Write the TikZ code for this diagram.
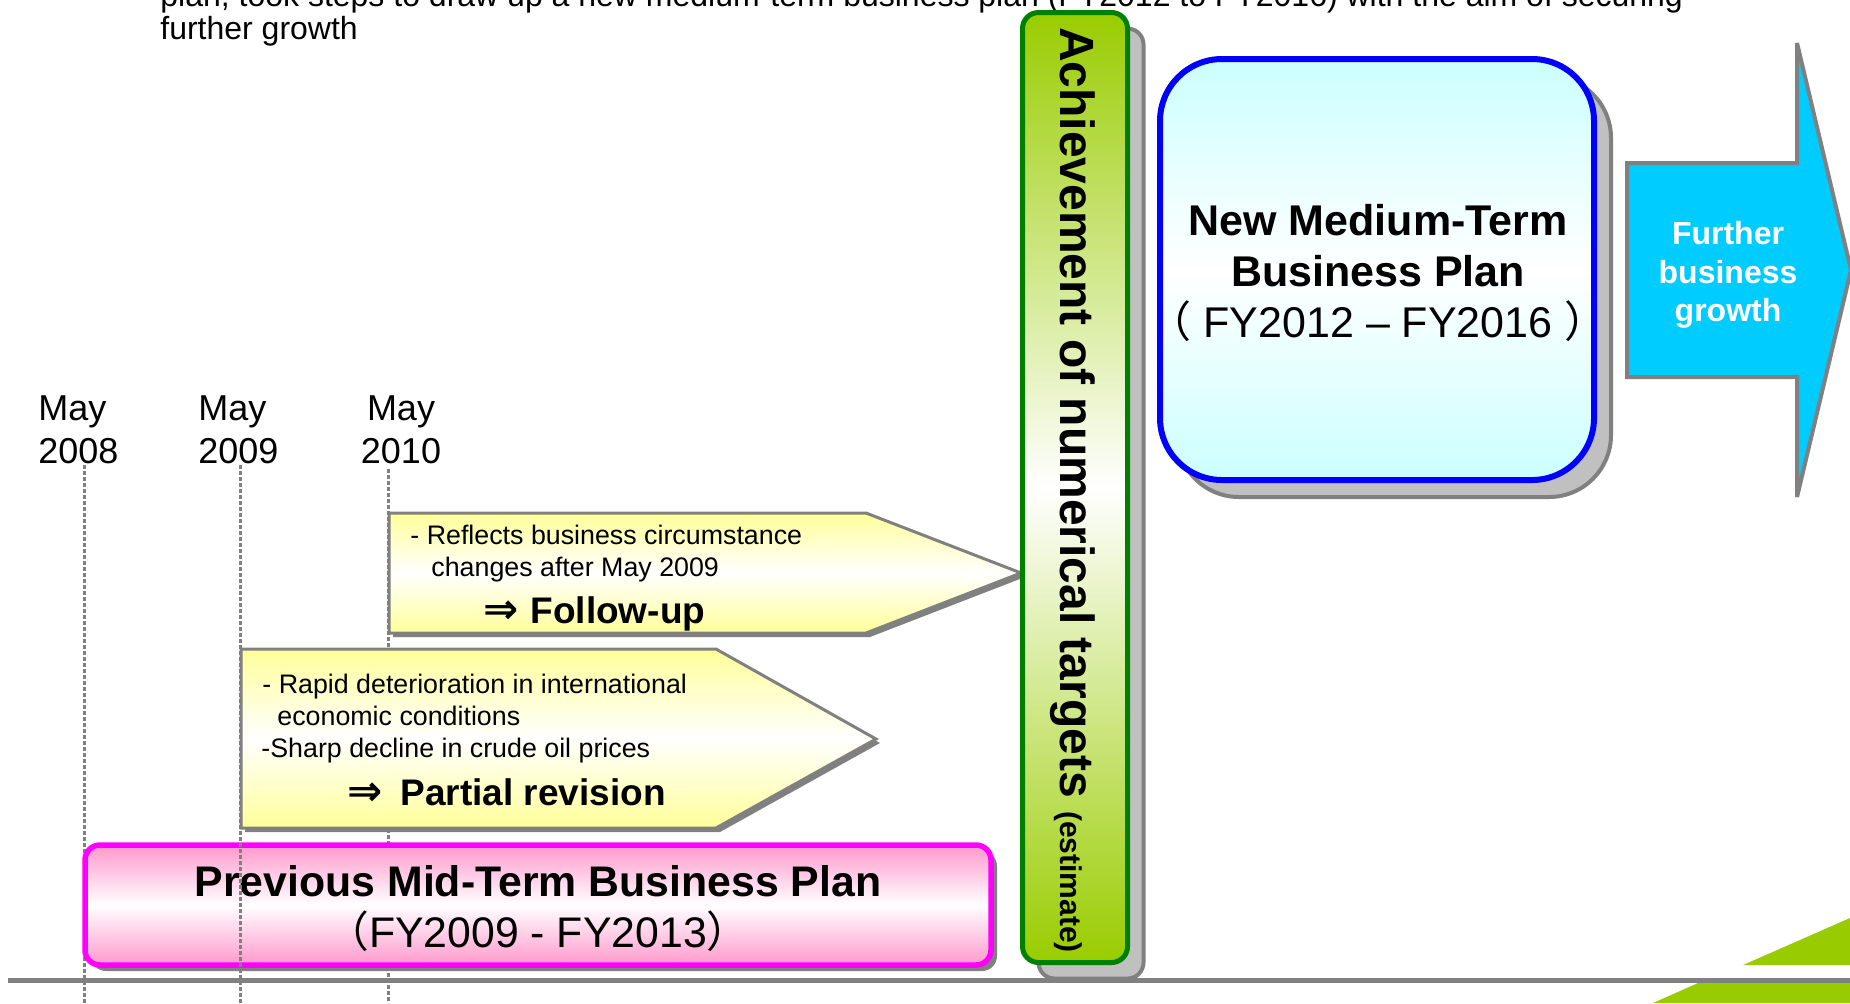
\documentclass[tikz,border=0pt]{standalone}
\usepackage{fontspec}
\setmainfont{Liberation Sans}
\newfontfamily\cjkfont{Noto Sans CJK JP}
\newfontfamily\symbolfont{DejaVu Sans}
\usepackage{tikz}

\definecolor{lineGray}{HTML}{808080}
\definecolor{shadeGray}{HTML}{C0C0C0}
\definecolor{noteYellow}{HTML}{FFFF99}
\definecolor{planPink}{HTML}{FF99CC}
\definecolor{planMagenta}{HTML}{FF00FF}
\definecolor{newCyan}{HTML}{CCFFFF}
\definecolor{newBlue}{HTML}{0000FF}
\definecolor{barGreen}{HTML}{99CC00}
\definecolor{barDark}{HTML}{008000}
\definecolor{growCyan}{HTML}{00CCFF}

\newcommand{\thenarrow}[1][6pt]{{\fontsize{21}{22}\selectfont\symbolfont ⇒}\hspace{#1}}

\tikzset{
  introtext/.style={anchor=base west, inner sep=0pt, font=\fontsize{16}{18}\selectfont},
  yearlabel/.style={inner sep=0pt, font=\fontsize{18}{21.5}\selectfont},
  yearline/.style={draw=lineGray, line width=1.5pt, dash pattern=on 1.75pt off 1.25pt},
  groundline/.style={draw=lineGray, line width=2.5pt},
  notearrow/.style={draw=lineGray, line width=1.5pt, top color=noteYellow, bottom color=noteYellow, middle color=white},
  notetext/.style={anchor=base west, inner sep=0pt, font=\fontsize{13.4}{16}\selectfont},
  notehead/.style={anchor=base west, inner sep=0pt, font=\fontsize{18.5}{22}\selectfont\bfseries},
  softshadow/.style={fill=lineGray},
  boxshadow/.style={fill=shadeGray, draw=lineGray, line width=2pt},
  oldplan/.style={draw=planMagenta, line width=2.75pt, rounded corners=7.5pt, top color=planPink, bottom color=planPink, middle color=white, minimum width=453pt, minimum height=60pt, align=center, inner sep=0pt, font=\fontsize{21.4}{25.5}\selectfont},
  newplan/.style={draw=newBlue, line width=3pt, rounded corners=31pt, top color=newCyan, bottom color=newCyan, middle color=white},
  newtext/.style={align=center, inner sep=0pt, font=\fontsize{21.5}{25.5}\selectfont},
  targetbar/.style={draw=barDark, line width=2.5pt, rounded corners=8pt, top color=barGreen, bottom color=barGreen, middle color=white},
  growtharrow/.style={fill=growCyan, draw=lineGray, line width=2pt, miter limit=1.5},
}

\begin{document}
\begin{tikzpicture}[x=0.5pt,y=-0.5pt]
\useasboundingbox (0,0) rectangle (1850,1003);

\node[introtext] (introA) at (160,6.5) {plan, took steps to draw up a new medium-term business plan (FY2012 to FY2016) with the aim of securing};
\node[introtext] (introB) at (160,39) {further growth};

\draw[yearline] (84,465) -- (84,1003);
\draw[yearline] (388,469) -- (388,1003);
\draw[groundline] (8,980.5) -- (1850,980.5);
\fill[barGreen] (1743,965) -- (1850,918) -- (1850,965) -- cycle;
\fill[barGreen] (1653,1003) -- (1698,983) -- (1850,983) -- (1850,1003) -- cycle;

\fill[softshadow, rounded corners=7.5pt] (91,851) rectangle (997,971);
\node[oldplan] (oldplan) at (538,905) {\rule{0pt}{19.5pt}\textbf{Previous Mid-Term Business Plan}\\{\cjkfont （}FY2009 - FY2013{\cjkfont ）}};

\fill[softshadow, shift={(4,4)}] (241,649) -- (716,649) -- (876,739) -- (716,828) -- (241,828) -- cycle;
\draw[notearrow] (241,649) -- (716,649) -- (876,739) -- (716,828) -- (241,828) -- cycle;
\node[notetext] (rapidA) at (262,693) {- Rapid deterioration in international};
\node[notetext] (rapidB) at (277,725) {economic conditions};
\node[notetext] (sharp) at (261,757) {-Sharp decline in crude oil prices};
\node[notehead] (revision) at (347,805) {\thenarrow[9pt]Partial revision};

\fill[softshadow, shift={(4,4)}] (389,513) -- (866,513) -- (1021,573) -- (866,633) -- (389,633) -- cycle;
\draw[notearrow] (389,513) -- (866,513) -- (1021,573) -- (866,633) -- (389,633) -- cycle;
\node[notetext] (reflectA) at (410,544) {- Reflects business circumstance};
\node[notetext] (reflectB) at (431,576) {changes after May 2009};
\node[notehead] (followup) at (483,623) {\thenarrow Follow-up};

\draw[yearline] (240,465) -- (240,1003);
\node[yearlabel, anchor=west, align=left] (may08) at (38,430) {May\\2008};
\node[yearlabel, anchor=west, align=left] (may09) at (198,430) {May\\2009};
\node[yearlabel, align=center] (may10) at (401,430) {May\\2010};

\draw[boxshadow, rounded corners=8pt] (1038.5,28.5) rectangle (1143.5,978.5);
\draw[targetbar] (1022.5,12.5) rectangle (1127.5,962.5);
\node[rotate=-90, inner sep=0pt, font=\bfseries] (targets) at (1073,490) {\fontsize{24}{28}\selectfont Achievement of numerical targets \fontsize{15}{18}\selectfont(estimate)};

\draw[boxshadow, rounded corners=31pt] (1177,76) rectangle (1611,497);
\draw[newplan] (1160,59) rectangle (1594,480);
\node[newtext] (newplan) at (1378,269.5) {\rule{0pt}{19pt}\textbf{New Medium-Term}\\\textbf{Business Plan}\\{\cjkfont （} FY2012 – FY2016 {\cjkfont ）}};

\draw[growtharrow] (1627,163) -- (1797,163) -- (1797,43) -- (1851,270) -- (1797,497) -- (1797,377) -- (1627,377) -- cycle;
\node[align=center, inner sep=0pt, text=white, font=\fontsize{16}{19.25}\selectfont\bfseries] (growth) at (1728,275) {Further\\business\\growth};
\end{tikzpicture}
\end{document}
